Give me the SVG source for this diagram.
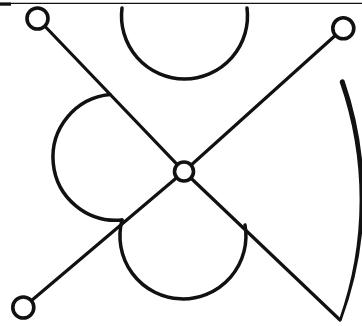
<svg xmlns="http://www.w3.org/2000/svg" width="362" height="326" viewBox="0 0 362 326">
<style>
.ln{stroke:#111;stroke-width:3.2;fill:none;stroke-linecap:round}
.arc{stroke:#111;stroke-width:3.5;fill:none;stroke-linecap:round}
.nd{stroke:#111;stroke-width:3.6;fill:#fff}
</style>
<rect width="362" height="326" fill="#fff"/>
<g id="border">
<line x1="0" y1="3.3" x2="362" y2="3.3" stroke="#111" stroke-width="1.3"/>
<rect x="0" y="2.5" width="11" height="3.2" fill="#111"/>
</g>
<g id="arcs">
<path class="arc" d="M122,8 A63,63 0 1 0 247,8"/>
<path class="arc" d="M110,94.5 A63,63 0 0 0 122,220"/>
<path class="arc" d="M122,220 A63,63 0 1 0 245,225"/>
<path d="M339.8,82.5 A2.6,2.6 0 0 1 344.5,80.5 A356,356 0 0 1 341.6,320.5 L339,319.5 A358,358 0 0 0 339.8,82.5 Z" fill="#111"/>
</g>
<g id="connectors">
<polyline class="ln" points="37.5,18.5 184,171.5 340,320"/>
<polyline class="ln" points="343.3,28.3 184,171.5 23.3,307.5"/>
</g>
<g id="node-top-left"><circle class="nd" cx="37.5" cy="18.5" r="10.5"/></g>
<g id="node-top-right"><circle class="nd" cx="343.3" cy="28.3" r="10.5"/></g>
<g id="node-center"><circle class="nd" cx="184" cy="171.5" r="9.5"/></g>
<g id="node-bottom-left"><circle class="nd" cx="23.3" cy="307.5" r="10.5"/></g>
</svg>
